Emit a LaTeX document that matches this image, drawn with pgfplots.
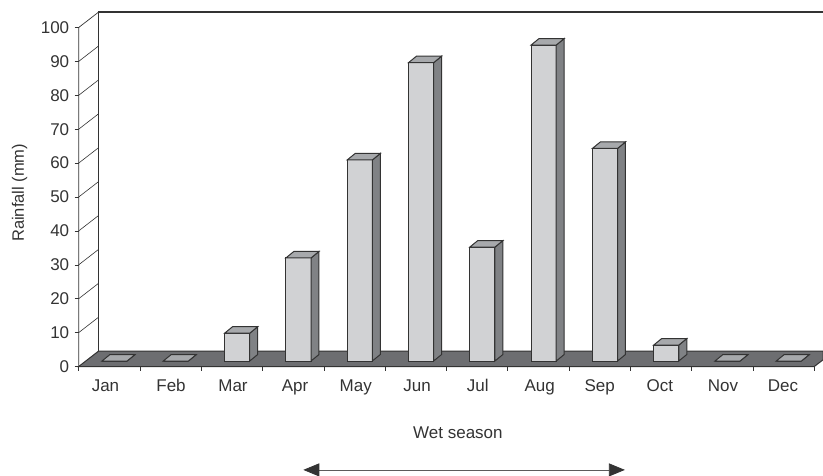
\documentclass[border=0pt]{standalone}
\usepackage{fontspec}
\setmainfont{Liberation Sans}
\usepackage{pgfplots}
\pgfplotsset{compat=1.18}
\usetikzlibrary{arrows.meta}

\definecolor{inkc}{HTML}{333333}
\definecolor{frontc}{HTML}{D1D2D4}
\definecolor{sidec}{HTML}{808285}
\definecolor{topc}{HTML}{A7A9AC}
\definecolor{floorc}{HTML}{6D6E71}

% one 3D bar: month index, rainfall value
\newcommand{\monthbar}[2]{%
  \pgfmathsetmacro\xl{#1+0.38}%
  \pgfmathsetmacro\xr{#1+0.79}%
  \pgfmathsetmacro\xrb{#1+0.79+0.13}%
  \pgfmathsetmacro\xlb{#1+0.38+0.13}%
  \pgfmathsetmacro\yb{1.62}%
  \pgfmathsetmacro\ybb{1.62+1.92}%
  \pgfmathsetmacro\yt{1.62+#2}%
  \pgfmathsetmacro\ytb{1.62+#2+1.92}%
  \addplot[draw=inkc,line width=1pt,fill=frontc] coordinates {(\xl,\yb) (\xr,\yb) (\xr,\yt) (\xl,\yt)} -- cycle;
  \addplot[draw=inkc,line width=1pt,fill=sidec] coordinates {(\xr,\yb) (\xrb,\ybb) (\xrb,\ytb) (\xr,\yt)} -- cycle;
  \addplot[draw=inkc,line width=1pt,fill=topc] coordinates {(\xl,\yt) (\xr,\yt) (\xrb,\ytb) (\xlb,\ytb)} -- cycle;
}

\begin{document}
\begin{tikzpicture}
\path[use as bounding box] (0pt,0pt) rectangle (823pt,475pt);
\begin{axis}[
    at={(78.7pt,108.5pt)},
    anchor=south west,
    scale only axis,
    width=744.3pt,
    height=354.5pt,
    xmin=0, xmax=12.142,
    ymin=0, ymax=104.57,
    clip=false,
    axis line style={draw=none},
    tick align=outside,
    tick pos=left,
    major tick length=4pt,
    tick style={draw=inkc,line width=0.6pt},
    xtick={0,1,2,3,4,5,6,7,8,9,10,11,12},
    xticklabels={},
    extra x ticks={0.437,1.506,2.517,3.53,4.52,5.52,6.51,7.52,8.50,9.48,10.51,11.49},
    extra x tick labels={Jan,Feb,Mar,Apr,May,Jun,Jul,Aug,Sep,Oct,Nov,Dec},
    extra x tick style={major tick length=0pt,xticklabel style={yshift=-9.5pt}},
    ytick={0,10,20,30,40,50,60,70,80,90,100},
    tick label style={font=\fontsize{17}{20}\selectfont,text=inkc},
    /pgf/number format/assume math mode=true,
    yticklabel style={xshift=-2pt},
    ylabel={Rainfall (mm)},
    every axis y label/.style={at={(axis description cs:-0.0795,0.49)},rotate=90,anchor=center,
      font=\fontsize{16.5}{20}\selectfont,text=inkc},
    xlabel={Wet season},
    every axis x label/.style={at={(axis description cs:0.5095,-0.1855)},anchor=center,
      font=\fontsize{17}{20}\selectfont,text=inkc},
]
% floor
\addplot[draw=inkc,line width=1pt,fill=floorc] coordinates {(0,0) (12,0) (12.142,1.96) (12.142,4.57) (0.326,4.57)} -- cycle;
% side wall and back wall
\addplot[draw=inkc,line width=0.7pt] coordinates {(0,0) (0,100) (0.326,104.57)};
\addplot[draw=inkc,line width=1.2pt] coordinates {(0.326,4.57) (0.326,104.57) (12.142,104.57)};
\addplot[draw=inkc,line width=0.6pt,unbounded coords=jump] coordinates {
  (0,10) (0.326,14.57) (0,nan)
  (0,20) (0.326,24.57) (0,nan)
  (0,30) (0.326,34.57) (0,nan)
  (0,40) (0.326,44.57) (0,nan)
  (0,50) (0.326,54.57) (0,nan)
  (0,60) (0.326,64.57) (0,nan)
  (0,70) (0.326,74.57) (0,nan)
  (0,80) (0.326,84.57) (0,nan)
  (0,90) (0.326,94.57)
};
% bars
\monthbar{0}{0}
\monthbar{1}{0}
\monthbar{2}{8.2}
\monthbar{3}{30.4}
\monthbar{4}{59.3}
\monthbar{5}{88}
\monthbar{6}{33.6}
\monthbar{7}{93.2}
\monthbar{8}{62.7}
\monthbar{9}{4.7}
\monthbar{10}{0}
\monthbar{11}{0}
% wet season arrow
\draw[draw=inkc!80,line width=0.8pt,{Stealth[length=16pt,width=13pt,inset=0pt,color=inkc]}-{Stealth[length=16pt,width=13pt,inset=0pt,color=inkc]}]
  (axis cs:3.664,-30.5) -- (axis cs:8.91,-30.5);
\end{axis}
\end{tikzpicture}
\end{document}
